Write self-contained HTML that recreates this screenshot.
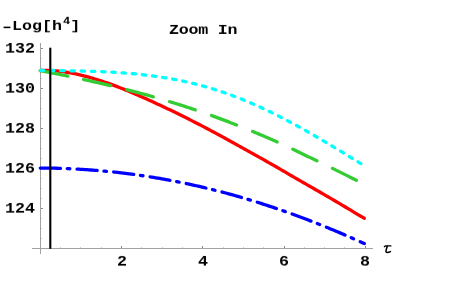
<!DOCTYPE html>
<html><head><meta charset="utf-8"><title>Zoom In</title>
<style>
html,body{margin:0;padding:0;background:#fff;}
body{width:463px;height:286px;overflow:hidden;position:relative;font-family:"Liberation Mono",monospace;font-weight:bold;color:#000;}
svg{position:absolute;left:0;top:0;}
.t{position:absolute;font-size:16.67px;line-height:16.67px;white-space:pre;transform-origin:0 0;will-change:transform;}
.sup{font-size:12px;position:relative;top:-7.0px;margin-left:1.0px;margin-right:0px;}
.hy{display:inline-block;transform:translateY(1.1px) scaleX(1.45);}
</style></head><body>
<svg width="463" height="286" viewBox="0 0 463 286">
<g stroke="#a2a2a2" stroke-width="1" fill="none" shape-rendering="crispEdges">
<line x1="32" y1="248.5" x2="373" y2="248.5"/>
<line x1="40.5" y1="43" x2="40.5" y2="253.5"/>
<line x1="60.50" y1="248.00" x2="60.50" y2="247.00" stroke="#cccccc"/><line x1="80.50" y1="248.00" x2="80.50" y2="247.00" stroke="#cccccc"/><line x1="101.50" y1="248.00" x2="101.50" y2="247.00" stroke="#cccccc"/><line x1="121.50" y1="248.00" x2="121.50" y2="245.60" stroke="#888888"/><line x1="141.50" y1="248.00" x2="141.50" y2="247.00" stroke="#cccccc"/><line x1="162.50" y1="248.00" x2="162.50" y2="247.00" stroke="#cccccc"/><line x1="182.50" y1="248.00" x2="182.50" y2="247.00" stroke="#cccccc"/><line x1="202.50" y1="248.00" x2="202.50" y2="245.60" stroke="#888888"/><line x1="223.50" y1="248.00" x2="223.50" y2="247.00" stroke="#cccccc"/><line x1="243.50" y1="248.00" x2="243.50" y2="247.00" stroke="#cccccc"/><line x1="263.50" y1="248.00" x2="263.50" y2="247.00" stroke="#cccccc"/><line x1="284.50" y1="248.00" x2="284.50" y2="245.60" stroke="#888888"/><line x1="304.50" y1="248.00" x2="304.50" y2="247.00" stroke="#cccccc"/><line x1="324.50" y1="248.00" x2="324.50" y2="247.00" stroke="#cccccc"/><line x1="344.50" y1="248.00" x2="344.50" y2="247.00" stroke="#cccccc"/><line x1="365.50" y1="248.00" x2="365.50" y2="245.60" stroke="#888888"/><line x1="41.00" y1="238.50" x2="42.00" y2="238.50" stroke="#cccccc"/><line x1="41.00" y1="228.50" x2="42.00" y2="228.50" stroke="#cccccc"/><line x1="41.00" y1="218.50" x2="42.00" y2="218.50" stroke="#cccccc"/><line x1="41.00" y1="208.50" x2="43.20" y2="208.50" stroke="#888888"/><line x1="41.00" y1="198.50" x2="42.00" y2="198.50" stroke="#cccccc"/><line x1="41.00" y1="188.50" x2="42.00" y2="188.50" stroke="#cccccc"/><line x1="41.00" y1="178.50" x2="42.00" y2="178.50" stroke="#cccccc"/><line x1="41.00" y1="168.50" x2="43.20" y2="168.50" stroke="#888888"/><line x1="41.00" y1="158.50" x2="42.00" y2="158.50" stroke="#cccccc"/><line x1="41.00" y1="148.50" x2="42.00" y2="148.50" stroke="#cccccc"/><line x1="41.00" y1="138.50" x2="42.00" y2="138.50" stroke="#cccccc"/><line x1="41.00" y1="128.50" x2="43.20" y2="128.50" stroke="#888888"/><line x1="41.00" y1="118.50" x2="42.00" y2="118.50" stroke="#cccccc"/><line x1="41.00" y1="108.50" x2="42.00" y2="108.50" stroke="#cccccc"/><line x1="41.00" y1="98.50" x2="42.00" y2="98.50" stroke="#cccccc"/><line x1="41.00" y1="88.50" x2="43.20" y2="88.50" stroke="#888888"/><line x1="41.00" y1="78.50" x2="42.00" y2="78.50" stroke="#cccccc"/><line x1="41.00" y1="68.50" x2="42.00" y2="68.50" stroke="#cccccc"/><line x1="41.00" y1="58.50" x2="42.00" y2="58.50" stroke="#cccccc"/><line x1="41.00" y1="48.50" x2="43.20" y2="48.50" stroke="#888888"/>
</g>
<g fill="none" stroke-linecap="round" stroke-linejoin="round" stroke-width="3.3">
<path d="M40.30 168.04 L42.33 168.05 L44.35 168.06 L46.38 168.08 L48.40 168.11 L50.43 168.14 L52.45 168.18 L54.48 168.22 L56.50 168.27 L58.53 168.33 L60.55 168.39 L62.58 168.46 L64.60 168.53 L66.63 168.60 L68.66 168.69 L70.68 168.78 L72.71 168.87 L74.73 168.97 L76.76 169.08 L78.78 169.19 L80.81 169.31 L82.83 169.43 L84.86 169.56 L86.88 169.69 L88.91 169.84 L90.94 169.98 L92.96 170.13 L94.99 170.29 L97.01 170.46 L99.04 170.63 L101.06 170.80 L103.09 170.98 L105.11 171.17 L107.14 171.36 L109.16 171.56 L111.19 171.77 L113.21 171.98 L115.24 172.19 L117.27 172.42 L119.29 172.64 L121.32 172.88 L123.34 173.12 L125.37 173.37 L127.39 173.62 L129.42 173.88 L131.44 174.14 L133.47 174.41 L135.49 174.68 L137.52 174.97 L139.55 175.25 L141.57 175.55 L143.60 175.85 L145.62 176.15 L147.65 176.46 L149.67 176.78 L151.70 177.11 L153.72 177.44 L155.75 177.77 L157.77 178.11 L159.80 178.46 L161.82 178.81 L163.85 179.17 L165.88 179.54 L167.90 179.91 L169.93 180.29 L171.95 180.67 L173.98 181.06 L176.00 181.46 L178.03 181.86 L180.05 182.26 L182.08 182.68 L184.10 183.10 L186.13 183.52 L188.16 183.95 L190.18 184.39 L192.21 184.83 L194.23 185.28 L196.26 185.74 L198.28 186.20 L200.31 186.67 L202.33 187.14 L204.36 187.62 L206.38 188.11 L208.41 188.60 L210.43 189.09 L212.46 189.60 L214.49 190.11 L216.51 190.62 L218.54 191.14 L220.56 191.67 L222.59 192.20 L224.61 192.74 L226.64 193.28 L228.66 193.84 L230.69 194.39 L232.71 194.95 L234.74 195.52 L236.77 196.10 L238.79 196.68 L240.82 197.26 L242.84 197.85 L244.87 198.45 L246.89 199.05 L248.92 199.66 L250.94 200.28 L252.97 200.90 L254.99 201.53 L257.02 202.16 L259.04 202.80 L261.07 203.44 L263.10 204.09 L265.12 204.75 L267.15 205.41 L269.17 206.07 L271.20 206.75 L273.22 207.42 L275.25 208.11 L277.27 208.80 L279.30 209.49 L281.32 210.19 L283.35 210.90 L285.38 211.61 L287.40 212.33 L289.43 213.05 L291.45 213.78 L293.48 214.51 L295.50 215.25 L297.53 216.00 L299.55 216.75 L301.58 217.51 L303.60 218.27 L305.63 219.04 L307.65 219.81 L309.68 220.59 L311.71 221.37 L313.73 222.16 L315.76 222.95 L317.78 223.75 L319.81 224.55 L321.83 225.36 L323.86 226.18 L325.88 227.00 L327.91 227.83 L329.93 228.66 L331.96 229.49 L333.99 230.33 L336.01 231.18 L338.04 232.03 L340.06 232.89 L342.09 233.75 L344.11 234.61 L346.14 235.48 L348.16 236.36 L350.19 237.24 L352.21 238.13 L354.24 239.02 L356.26 239.91 L358.29 240.81 L360.32 241.72 L362.34 242.63 L364.37 243.54" stroke="#0000ff" stroke-dasharray="20.2 6.75 2.6 7.2"/>
<path d="M40.30 70.59 L42.33 70.51 L44.35 70.47 L46.38 70.46 L48.40 70.49 L50.43 70.56 L52.45 70.66 L54.48 70.80 L56.50 70.96 L58.53 71.16 L60.55 71.39 L62.58 71.65 L64.60 71.93 L66.63 72.25 L68.66 72.58 L70.68 72.95 L72.71 73.33 L74.73 73.74 L76.76 74.18 L78.78 74.63 L80.81 75.11 L82.83 75.60 L84.86 76.12 L86.88 76.65 L88.91 77.20 L90.94 77.77 L92.96 78.36 L94.99 78.96 L97.01 79.58 L99.04 80.21 L101.06 80.86 L103.09 81.53 L105.11 82.21 L107.14 82.91 L109.16 83.62 L111.19 84.36 L113.21 85.10 L115.24 85.87 L117.27 86.64 L119.29 87.43 L121.32 88.23 L123.34 89.04 L125.37 89.87 L127.39 90.70 L129.42 91.55 L131.44 92.40 L133.47 93.27 L135.49 94.14 L137.52 95.02 L139.55 95.90 L141.57 96.80 L143.60 97.70 L145.62 98.60 L147.65 99.52 L149.67 100.43 L151.70 101.35 L153.72 102.28 L155.75 103.21 L157.77 104.14 L159.80 105.08 L161.82 106.02 L163.85 106.97 L165.88 107.93 L167.90 108.89 L169.93 109.86 L171.95 110.83 L173.98 111.82 L176.00 112.80 L178.03 113.79 L180.05 114.79 L182.08 115.79 L184.10 116.80 L186.13 117.81 L188.16 118.83 L190.18 119.85 L192.21 120.88 L194.23 121.92 L196.26 122.95 L198.28 124.00 L200.31 125.05 L202.33 126.10 L204.36 127.16 L206.38 128.22 L208.41 129.29 L210.43 130.36 L212.46 131.43 L214.49 132.51 L216.51 133.60 L218.54 134.70 L220.56 135.80 L222.59 136.90 L224.61 138.01 L226.64 139.13 L228.66 140.25 L230.69 141.37 L232.71 142.49 L234.74 143.62 L236.77 144.74 L238.79 145.87 L240.82 146.99 L242.84 148.11 L244.87 149.24 L246.89 150.36 L248.92 151.48 L250.94 152.61 L252.97 153.74 L254.99 154.87 L257.02 156.01 L259.04 157.14 L261.07 158.28 L263.10 159.42 L265.12 160.56 L267.15 161.70 L269.17 162.84 L271.20 163.99 L273.22 165.13 L275.25 166.29 L277.27 167.46 L279.30 168.63 L281.32 169.81 L283.35 170.99 L285.38 172.18 L287.40 173.36 L289.43 174.55 L291.45 175.74 L293.48 176.92 L295.50 178.10 L297.53 179.27 L299.55 180.43 L301.58 181.59 L303.60 182.75 L305.63 183.90 L307.65 185.06 L309.68 186.22 L311.71 187.38 L313.73 188.55 L315.76 189.71 L317.78 190.88 L319.81 192.04 L321.83 193.21 L323.86 194.38 L325.88 195.56 L327.91 196.73 L329.93 197.91 L331.96 199.09 L333.99 200.28 L336.01 201.46 L338.04 202.65 L340.06 203.85 L342.09 205.05 L344.11 206.26 L346.14 207.47 L348.16 208.68 L350.19 209.91 L352.21 211.13 L354.24 212.37 L356.26 213.62 L358.29 214.85 L360.32 216.03 L362.34 217.17 L364.37 218.30" stroke="#ff0000"/>
<path d="M40.30 70.59 L42.33 70.99 L44.35 71.39 L46.38 71.80 L48.40 72.20 L50.43 72.61 L52.45 73.01 L54.48 73.42 L56.50 73.83 L58.53 74.24 L60.55 74.65 L62.58 75.07 L64.60 75.48 L66.63 75.90 L68.66 76.32 L70.68 76.75 L72.71 77.17 L74.73 77.60 L76.76 78.03 L78.78 78.46 L80.81 78.89 L82.83 79.33 L84.86 79.77 L86.88 80.21 L88.91 80.66 L90.94 81.11 L92.96 81.56 L94.99 82.02 L97.01 82.48 L99.04 82.94 L101.06 83.40 L103.09 83.87 L105.11 84.35 L107.14 84.82 L109.16 85.30 L111.19 85.79 L113.21 86.27 L115.24 86.77 L117.27 87.26 L119.29 87.76 L121.32 88.26 L123.34 88.77 L125.37 89.28 L127.39 89.80 L129.42 90.32 L131.44 90.85 L133.47 91.38 L135.49 91.91 L137.52 92.45 L139.55 92.99 L141.57 93.54 L143.60 94.09 L145.62 94.65 L147.65 95.21 L149.67 95.78 L151.70 96.35 L153.72 96.93 L155.75 97.51 L157.77 98.09 L159.80 98.68 L161.82 99.28 L163.85 99.88 L165.88 100.49 L167.90 101.10 L169.93 101.72 L171.95 102.34 L173.98 102.97 L176.00 103.60 L178.03 104.24 L180.05 104.88 L182.08 105.53 L184.10 106.18 L186.13 106.84 L188.16 107.50 L190.18 108.17 L192.21 108.85 L194.23 109.53 L196.26 110.21 L198.28 110.90 L200.31 111.60 L202.33 112.30 L204.36 113.01 L206.38 113.72 L208.41 114.44 L210.43 115.16 L212.46 115.89 L214.49 116.63 L216.51 117.36 L218.54 118.11 L220.56 118.86 L222.59 119.61 L224.61 120.38 L226.64 121.14 L228.66 121.91 L230.69 122.69 L232.71 123.47 L234.74 124.26 L236.77 125.05 L238.79 125.85 L240.82 126.65 L242.84 127.46 L244.87 128.27 L246.89 129.09 L248.92 129.91 L250.94 130.74 L252.97 131.58 L254.99 132.41 L257.02 133.26 L259.04 134.11 L261.07 134.96 L263.10 135.82 L265.12 136.68 L267.15 137.55 L269.17 138.42 L271.20 139.30 L273.22 140.18 L275.25 141.06 L277.27 141.95 L279.30 142.85 L281.32 143.75 L283.35 144.67 L285.38 145.61 L287.40 146.57 L289.43 147.53 L291.45 148.51 L293.48 149.50 L295.50 150.49 L297.53 151.48 L299.55 152.47 L301.58 153.47 L303.60 154.45 L305.63 155.43 L307.65 156.41 L309.68 157.37 L311.71 158.33 L313.73 159.30 L315.76 160.27 L317.78 161.25 L319.81 162.23 L321.83 163.21 L323.86 164.19 L325.88 165.17 L327.91 166.16 L329.93 167.15 L331.96 168.14 L333.99 169.13 L336.01 170.13 L338.04 171.13 L340.06 172.13 L342.09 173.13 L344.11 174.13 L346.14 175.13 L348.16 176.14 L350.19 177.15 L352.21 178.15 L354.24 179.16 L356.26 180.17 L358.29 181.18 L360.32 182.15 L362.34 183.10 L364.37 184.05" stroke="#33cc33" stroke-dasharray="28 16.2 27.8 16.6 27.4 17 27 17.2 26.8 17.2 26.8 17.2 26.8 17.2 26.8 17.2"/>
<path d="M40.30 70.39 L42.33 70.41 L44.35 70.42 L46.38 70.44 L48.40 70.46 L50.43 70.48 L52.45 70.50 L54.48 70.53 L56.50 70.55 L58.53 70.58 L60.55 70.61 L62.58 70.64 L64.60 70.67 L66.63 70.71 L68.66 70.74 L70.68 70.78 L72.71 70.82 L74.73 70.86 L76.76 70.91 L78.78 70.96 L80.81 71.01 L82.83 71.06 L84.86 71.11 L86.88 71.17 L88.91 71.23 L90.94 71.30 L92.96 71.36 L94.99 71.43 L97.01 71.51 L99.04 71.59 L101.06 71.67 L103.09 71.76 L105.11 71.85 L107.14 71.95 L109.16 72.05 L111.19 72.16 L113.21 72.27 L115.24 72.39 L117.27 72.52 L119.29 72.65 L121.32 72.78 L123.34 72.93 L125.37 73.08 L127.39 73.24 L129.42 73.40 L131.44 73.57 L133.47 73.75 L135.49 73.94 L137.52 74.14 L139.55 74.34 L141.57 74.55 L143.60 74.78 L145.62 75.01 L147.65 75.25 L149.67 75.49 L151.70 75.75 L153.72 76.02 L155.75 76.30 L157.77 76.59 L159.80 76.89 L161.82 77.20 L163.85 77.52 L165.88 77.85 L167.90 78.19 L169.93 78.54 L171.95 78.91 L173.98 79.28 L176.00 79.67 L178.03 80.07 L180.05 80.48 L182.08 80.91 L184.10 81.34 L186.13 81.79 L188.16 82.25 L190.18 82.72 L192.21 83.21 L194.23 83.71 L196.26 84.22 L198.28 84.75 L200.31 85.28 L202.33 85.83 L204.36 86.40 L206.38 86.97 L208.41 87.57 L210.43 88.17 L212.46 88.79 L214.49 89.42 L216.51 90.06 L218.54 90.72 L220.56 91.39 L222.59 92.07 L224.61 92.77 L226.64 93.48 L228.66 94.20 L230.69 94.94 L232.71 95.69 L234.74 96.45 L236.77 97.23 L238.79 98.02 L240.82 98.82 L242.84 99.63 L244.87 100.46 L246.89 101.30 L248.92 102.16 L250.94 103.02 L252.97 103.90 L254.99 104.79 L257.02 105.69 L259.04 106.61 L261.07 107.54 L263.10 108.47 L265.12 109.42 L267.15 110.39 L269.17 111.36 L271.20 112.34 L273.22 113.34 L275.25 114.34 L277.27 115.36 L279.30 116.39 L281.32 117.42 L283.35 118.47 L285.38 119.53 L287.40 120.59 L289.43 121.67 L291.45 122.75 L293.48 123.84 L295.50 124.95 L297.53 126.06 L299.55 127.18 L301.58 128.30 L303.60 129.44 L305.63 130.58 L307.65 131.73 L309.68 132.88 L311.71 134.05 L313.73 135.21 L315.76 136.39 L317.78 137.57 L319.81 138.76 L321.83 139.95 L323.86 141.15 L325.88 142.35 L327.91 143.56 L329.93 144.77 L331.96 145.98 L333.99 147.20 L336.01 148.42 L338.04 149.65 L340.06 150.88 L342.09 152.11 L344.11 153.35 L346.14 154.58 L348.16 155.82 L350.19 157.06 L352.21 158.31 L354.24 159.55 L356.26 160.80 L358.29 162.04 L360.32 163.29 L362.34 164.54 L364.37 165.79" stroke="#00ffff" stroke-dasharray="3.4 6.815"/>
<path d="M384.4 246.7 Q384.9 245.9 385.9 245.9 L390.9 245.9" stroke="#000" stroke-width="1.35"/>
<path d="M387.2 246.2 L386.0 250.6 Q385.7 252.5 387.3 252.5 Q388.8 252.5 390.4 251.6" stroke="#000" stroke-width="1.55"/>
<line x1="50.3" y1="47.7" x2="50.3" y2="248.8" stroke="#000" stroke-width="2.1" stroke-linecap="butt"/>
</g>
</svg>
<div class="t" style="left:1.70px;top:20.03px;transform:scaleY(0.820);"><span class="hy">-</span>Log[h<span class="sup">4</span>]</div><div class="t" style="left:169.40px;top:24.03px;transform:scaleY(0.820);letter-spacing:-0.25px;">Zoom In</div><div class="t" style="left:5.00px;top:42.26px;transform:scaleY(0.880);">132</div><div class="t" style="left:5.00px;top:82.26px;transform:scaleY(0.880);">130</div><div class="t" style="left:5.00px;top:122.26px;transform:scaleY(0.880);">128</div><div class="t" style="left:5.00px;top:162.26px;transform:scaleY(0.880);">126</div><div class="t" style="left:5.00px;top:202.26px;transform:scaleY(0.880);">124</div><div class="t" style="left:116.94px;top:255.26px;transform:scaleY(0.880);">2</div><div class="t" style="left:197.98px;top:255.26px;transform:scaleY(0.880);">4</div><div class="t" style="left:279.02px;top:255.26px;transform:scaleY(0.880);">6</div><div class="t" style="left:359.56px;top:255.26px;transform:scaleY(0.880);">8</div>
</body></html>
